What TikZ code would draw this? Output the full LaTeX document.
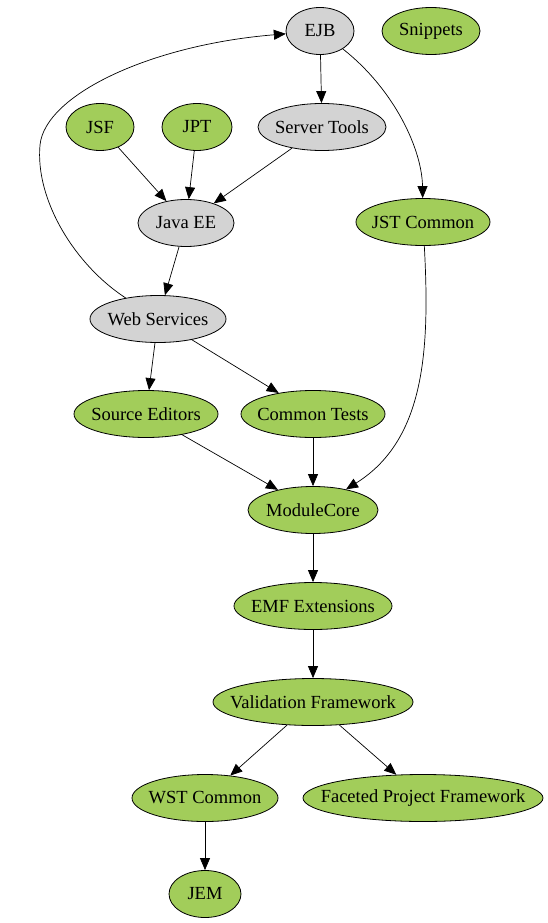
\documentclass[tikz,border=0pt]{standalone}
\usepackage{fontspec}
\setmainfont{Liberation Serif}
\usetikzlibrary{shapes.geometric,arrows.meta}
\definecolor{leaf}{HTML}{A2CD5A}
\definecolor{inner}{HTML}{D3D3D3}
\tikzset{
  pkg/.style={ellipse, draw=black, line width=0.8pt, inner sep=0pt, minimum height=47pt},
  green/.style={pkg, fill=leaf},
  grey/.style={pkg, fill=inner},
  every label/.style={font=\fontsize{18.5}{22}\selectfont, text=black, inner sep=0pt},
  edge/.style={draw=black, line width=0.7pt, -{Triangle[length=12pt,width=10pt]}}
}
\begin{document}
\begin{tikzpicture}[x=1pt,y=-1pt]
\useasboundingbox (0,0) rectangle (548,923);
\node[grey, minimum width=68pt, label=center:EJB] (ejb) at (320,31) {};
\node[green, minimum width=98pt, label=center:Snippets] (snip) at (431,31) {};
\node[green, minimum width=68pt, label=center:JSF] (jsf) at (100,127) {};
\node[green, minimum width=70pt, label=center:JPT] (jpt) at (197,127) {};
\node[grey, minimum width=128pt, label=center:Server Tools] (st) at (322,127) {};
\node[grey, minimum width=96pt, label=center:Java EE] (jee) at (186,223) {};
\node[green, minimum width=134pt, label=center:JST Common] (jst) at (423,222) {};
\node[grey, minimum width=136pt, label=center:Web Services] (ws) at (158,319) {};
\node[green, minimum width=144pt, label=center:Source Editors] (se) at (146,414) {};
\node[green, minimum width=144pt, label=center:Common Tests] (ct) at (313,414) {};
\node[green, minimum width=130pt, label=center:ModuleCore] (mc) at (313,510) {};
\node[green, minimum width=158pt, label=center:EMF Extensions] (emf) at (313,606) {};
\node[green, minimum width=200pt, label=center:Validation Framework] (vf) at (313,702) {};
\node[green, minimum width=146pt, label=center:WST Common] (wst) at (205,798) {};
\node[green, minimum width=240pt, label=center:Faceted Project Framework] (fpf) at (423,798) {};
\node[green, minimum width=72pt, label=center:JEM] (jem) at (205,894) {};
\coordinate (bend) at (40,145);

\draw[edge] (ejb) -- (st);
\draw[edge] (ejb) .. controls (395,90) and (422,150) .. (jst);
\draw[edge] (ws) .. controls (75,265) and (35,200) .. (bend) .. controls (45,95) and (150,45) .. (ejb);
\draw[edge] (jsf) -- (jee);
\draw[edge] (jpt) -- (jee);
\draw[edge] (st) -- (jee);
\draw[edge] (jee) -- (ws);
\draw[edge] (ws) -- (se);
\draw[edge] (ws) -- (ct);
\draw[edge] (se) -- (mc);
\draw[edge] (ct) -- (mc);
\draw[edge] (jst) .. controls (430,350) and (425,440) .. (mc);
\draw[edge] (mc) -- (emf);
\draw[edge] (emf) -- (vf);
\draw[edge] (vf) -- (wst);
\draw[edge] (vf) -- (fpf);
\draw[edge] (wst) -- (jem);
\end{tikzpicture}
\end{document}
